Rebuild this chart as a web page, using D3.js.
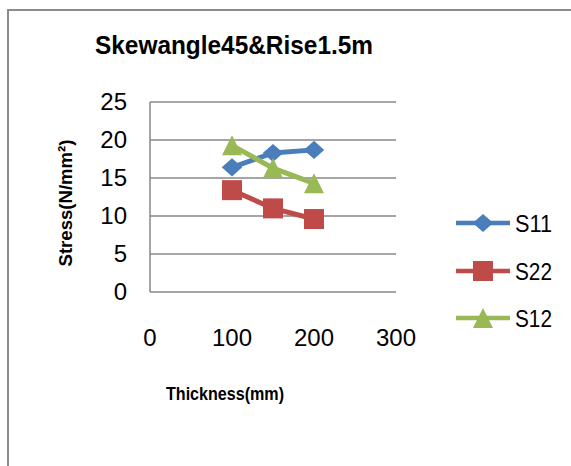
<!DOCTYPE html>
<html lang="en">
<head>
<meta charset="UTF-8">
<title>Skewangle45&amp;Rise1.5m</title>
<style>
    body { margin: 0; background: #fff; }
    text { font-family: "Liberation Sans", Arial, sans-serif; fill: #000; }
</style>
<script src="https://d3js.org/d3.v7.min.js"></script>
</head>
<body>
<svg id="chart" width="571" height="466"></svg>
<script>
    // data
    var thickness = [100, 150, 200];
    var s11 = [16.4, 18.3, 18.7];
    var s22 = [13.4, 11.0, 9.6];
    var s12 = [19.3, 16.3, 14.3];
    var xTicks = [0, 100, 200, 300];
    var yTicks = [0, 5, 10, 15, 20, 25];
    var seriesNames = ["S11", "S22", "S12"];

    // Excel-like markers: wide diamond, square, triangle as tall as wide
    var wideDiamond = {
        draw: function (ctx, size) {
            var w = Math.sqrt(size) / 2, h = w * 0.88;
            ctx.moveTo(0, -h); ctx.lineTo(w, 0); ctx.lineTo(0, h); ctx.lineTo(-w, 0); ctx.closePath();
        }
    };
    var fatTriangle = {
        draw: function (ctx, size) {
            var w = Math.sqrt(size) / 2;
            ctx.moveTo(0, -w); ctx.lineTo(w, w); ctx.lineTo(-w, w); ctx.closePath();
        }
    };

    var colors = { S11: "#4a7ebb", S22: "#be4b48", S12: "#98b954" };
    var shapes = { S11: wideDiamond, S22: d3.symbolSquare, S12: fatTriangle };
    var sizes = { S11: 420, S22: 400, S12: 400 };
    var values = { S11: s11, S22: s22, S12: s12 };

    var svg = d3.select("#chart");

    // outer frame (only top and left edges are visible)
    svg.append("path")
        .attr("d", "M8,466 L8,10 L571,10")
        .attr("fill", "none")
        .attr("stroke", "#8c8c8c")
        .attr("stroke-width", 2);

    var x = d3.scaleLinear().domain([0, 300]).range([150, 396]);
    var y = d3.scaleLinear().domain([0, 25]).range([292, 102]);

    // horizontal gridlines
    svg.append("g").selectAll("line")
        .data(yTicks)
        .enter().append("line")
        .attr("x1", x(0)).attr("x2", x(300))
        .attr("y1", d => y(d)).attr("y2", d => y(d))
        .attr("stroke", "#878787")
        .attr("stroke-width", 1.5);

    // left axis line
    svg.append("line")
        .attr("x1", x(0)).attr("x2", x(0))
        .attr("y1", y(25)).attr("y2", y(0))
        .attr("stroke", "#878787")
        .attr("stroke-width", 1.5);

    // y tick labels
    svg.append("g").selectAll("text")
        .data(yTicks)
        .enter().append("text")
        .attr("x", 127)
        .attr("y", d => y(d) + 8)
        .attr("text-anchor", "end")
        .attr("font-size", 24)
        .text(d => d);

    // x tick labels
    svg.append("g").selectAll("text")
        .data(xTicks)
        .enter().append("text")
        .attr("x", d => x(d))
        .attr("y", 346)
        .attr("text-anchor", "middle")
        .attr("font-size", 24)
        .text(d => d);

    // lines and markers
    var line = d3.line().x((d, i) => x(thickness[i])).y(d => y(d));

    seriesNames.forEach(function (name) {
        svg.append("path")
            .datum(values[name])
            .attr("d", line)
            .attr("fill", "none")
            .attr("stroke", colors[name])
            .attr("stroke-width", 5);

        svg.append("g").selectAll("path")
            .data(values[name])
            .enter().append("path")
            .attr("transform", (d, i) => "translate(" + x(thickness[i]) + "," + y(d) + ")")
            .attr("d", d3.symbol().type(shapes[name]).size(sizes[name]))
            .attr("fill", colors[name]);
    });

    // legend
    var legendY = [223, 271, 318];
    seriesNames.forEach(function (name, i) {
        var g = svg.append("g").attr("transform", "translate(0," + legendY[i] + ")");
        g.append("line")
            .attr("x1", 456).attr("x2", 510)
            .attr("stroke", colors[name])
            .attr("stroke-width", 4.5);
        g.append("path")
            .attr("transform", "translate(483,0)")
            .attr("d", d3.symbol().type(shapes[name]).size(sizes[name]))
            .attr("fill", colors[name]);
        g.append("text")
            .attr("x", 515)
            .attr("y", 9)
            .attr("font-size", 24)
            .attr("textLength", 37)
            .attr("lengthAdjust", "spacingAndGlyphs")
            .text(name);
    });

    // title
    svg.append("text")
        .attr("x", 95)
        .attr("y", 54)
        .attr("font-size", 25)
        .attr("font-weight", "bold")
        .attr("textLength", 278)
        .attr("lengthAdjust", "spacingAndGlyphs")
        .text("Skewangle45&Rise1.5m");

    // axis titles
    svg.append("text")
        .attr("transform", "translate(72,203) rotate(-90)")
        .attr("text-anchor", "middle")
        .attr("font-size", 19)
        .attr("font-weight", "bold")
        .attr("textLength", 127)
        .attr("lengthAdjust", "spacingAndGlyphs")
        .text("Stress(N/mm²)");

    svg.append("text")
        .attr("x", 166)
        .attr("y", 400)
        .attr("font-size", 19)
        .attr("font-weight", "bold")
        .attr("textLength", 118)
        .attr("lengthAdjust", "spacingAndGlyphs")
        .text("Thickness(mm)");
</script>
</body>
</html>
